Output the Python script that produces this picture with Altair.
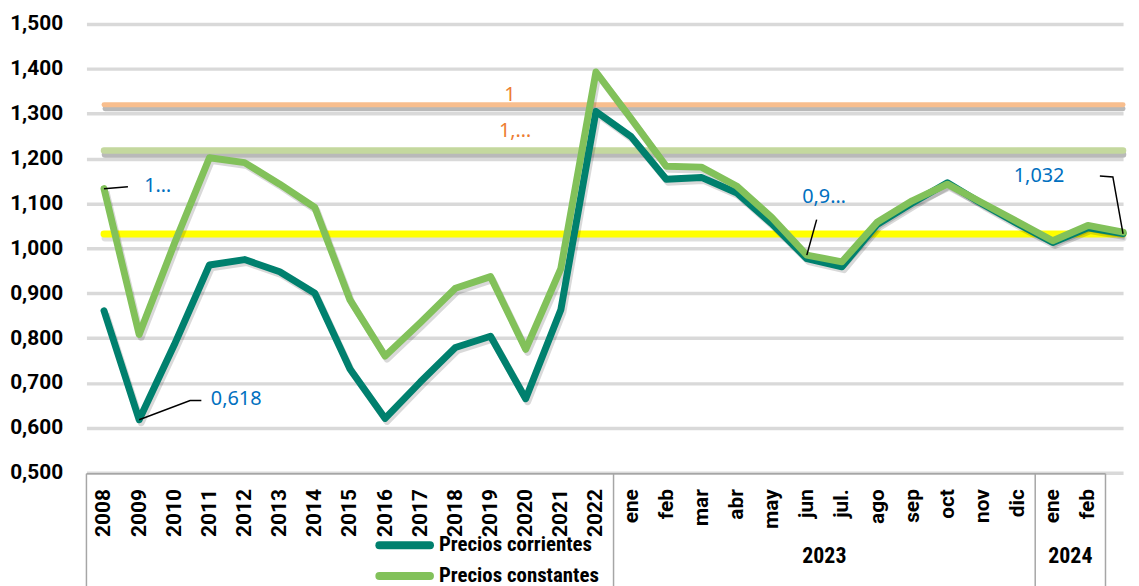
import json
import altair as alt
import pandas as pd

# ---------------- data ----------------
categories = ["2008", "2009", "2010", "2011", "2012", "2013", "2014", "2015", "2016",
              "2017", "2018", "2019", "2020", "2021", "2022",
              "ene", "feb", "mar", "abr", "may", "jun", "jul.", "ago", "sep", "oct",
              "nov", "dic", "ene", "feb", ""]
corrientes = [0.861, 0.618, 0.785, 0.963, 0.975, 0.948, 0.900, 0.731, 0.621, 0.702,
              0.779, 0.804, 0.665, 0.863, 1.305, 1.249, 1.154, 1.158, 1.124, 1.055,
              0.977, 0.959, 1.053, 1.101, 1.146, 1.099, 1.055, 1.013, 1.046, 1.033]
constantes = [1.133, 0.808, 1.010, 1.202, 1.191, 1.143, 1.091, 0.885, 0.760, 0.834,
              0.911, 0.937, 0.775, 0.955, 1.393, 1.289, 1.183, 1.181, 1.139, 1.069,
              0.985, 0.970, 1.058, 1.106, 1.143, 1.101, 1.059, 1.017, 1.051, 1.036]
series_names = ["Precios corrientes", "Precios constantes"]
series_colors = ["#00806E", "#82C15A"]

ref_values = [1.320, 1.218, 1.032]
ref_colors = ["#F8BE8E", "#C4D89E", "#FFFF00"]
ref_widths = [5, 6.5, 7]
ref_shadow_opacity = [0.55, 0.55, 0.25]
ref_label_text = ["1", "1,\u2026"]
ref_label_x = [11.55, 11.7]
ref_label_y = [1.342, 1.262]

ann_text = ["1\u2026", "0,618", "0,9\u2026", "1,032"]
ann_x = [1.53, 3.76, 20.49, 26.61]
ann_y = [1.138, 0.664, 1.114, 1.161]
leader_id = [1, 1, 2, 2, 2, 3, 3, 4, 4, 4]
leader_x = [0, 0.68, 1, 2.45, 2.77, 20, 20.28, 28.34, 28.71, 29]
leader_y = [1.133, 1.137, 0.618, 0.661, 0.661, 0.985, 1.064, 1.161, 1.159, 1.032]

groups = ["2023", "2024"]
group_start = [15, 27]
group_end = [26, 28]
n_years = 15

y_ticks = [0.5, 0.6, 0.7, 0.8, 0.9, 1.0, 1.1, 1.2, 1.3, 1.4, 1.5]

# ---------------- tables ----------------
idx = list(range(len(categories)))
df_c = pd.DataFrame({"idx": idx, "value": corrientes})
df_k = pd.DataFrame({"idx": idx, "value": constantes})
df_ref = pd.DataFrame({"value": ref_values, "color": ref_colors, "w": ref_widths,
                       "xs": [0] * 3, "xe": [len(categories) - 1] * 3,
                       "sop": ref_shadow_opacity})
df_ref_lab = pd.DataFrame({"idx": ref_label_x, "value": ref_label_y, "text": ref_label_text})
df_ann = pd.DataFrame({"idx": ann_x, "value": ann_y, "text": ann_text})
df_lead = pd.DataFrame({"id": leader_id, "idx": leader_x, "value": leader_y,
                        "seq": list(range(len(leader_x)))})
df_groups = pd.DataFrame({"g": groups,
                          "idx": [(a + b) / 2 for a, b in zip(group_start, group_end)]})
bounds = [-0.5, n_years - 0.5] + [e + 0.5 for e in group_end]
df_sep = pd.DataFrame({"idx": bounds})
df_box = pd.DataFrame({"xs": [bounds[0]], "xe": [bounds[-1]]})

label_font = "Roboto"
narrow_font = "Liberation Sans Narrow, Roboto Condensed, DejaVu Sans Condensed, Roboto"
ann_font = "Noto Sans, Open Sans"

x_axis = alt.Axis(values=list(range(len(categories) - 1)),
                  labelExpr=json.dumps(categories) + "[datum.value]",
                  labelAngle=270, labelAlign="right", labelBaseline="middle",
                  labelPadding=16, labelFont=label_font, labelFontWeight="bold",
                  labelFontSize=21, labelColor="#000000", domain=False, ticks=False,
                  grid=False, title=None, labelOverlap=False)
y_axis = alt.Axis(values=y_ticks, labelExpr="replace(format(datum.value, '.3f'), '.', ',')",
                  labelFont=label_font, labelFontWeight="bold", labelFontSize=21,
                  labelColor="#000000", labelPadding=24, domain=False, ticks=False,
                  grid=True, gridColor="#D9D9D9", gridWidth=3.5, title=None)
xs = alt.Scale(domain=[-0.5, len(categories) - 1], nice=False, zero=False)
ys = alt.Scale(domain=[0.5, 1.5], nice=False, zero=False)
X = alt.X("idx:Q", scale=xs, axis=x_axis)
Y = alt.Y("value:Q", scale=ys, axis=y_axis)

# ---------------- layers ----------------
ref_shadow = alt.Chart(df_ref).mark_rule(strokeCap="round", color="#7F7F7F",
                                         yOffset=4, xOffset=1).encode(
    x=alt.X("xs:Q", scale=xs, axis=x_axis), x2="xe:Q", y=Y,
    strokeWidth=alt.StrokeWidth("w:Q", scale=None),
    opacity=alt.Opacity("sop:Q", scale=None))
ref_lines = alt.Chart(df_ref).mark_rule(strokeCap="round").encode(
    x=alt.X("xs:Q", scale=xs, axis=x_axis), x2="xe:Q", y=Y,
    strokeWidth=alt.StrokeWidth("w:Q", scale=None),
    color=alt.Color("color:N", scale=None))

shadow_c = alt.Chart(df_c).mark_line(strokeWidth=7, color="#000000", opacity=0.15,
                                     yOffset=3, xOffset=2, strokeJoin="round").encode(x=X, y=Y)
shadow_k = alt.Chart(df_k).mark_line(strokeWidth=7, color="#000000", opacity=0.15,
                                     yOffset=3, xOffset=2, strokeJoin="round").encode(x=X, y=Y)
line_c = alt.Chart(df_c).mark_line(strokeWidth=7, color=series_colors[0], strokeJoin="round",
                                   strokeCap="round").encode(x=X, y=Y)
line_k = alt.Chart(df_k).mark_line(strokeWidth=7, color=series_colors[1], strokeJoin="round",
                                   strokeCap="round").encode(x=X, y=Y)

leaders = alt.Chart(df_lead).mark_line(color="#000000", strokeWidth=1.5).encode(
    x=X, y=Y, detail="id:N", order="seq:Q")
ann = alt.Chart(df_ann).mark_text(font=ann_font, fontSize=20, color="#0070C0",
                                  align="center", baseline="middle").encode(x=X, y=Y, text="text:N")
ref_lab = alt.Chart(df_ref_lab).mark_text(font=ann_font, fontSize=20, color="#ED7D31",
                                          align="center", baseline="middle").encode(
    x=X, y=Y, text="text:N")

box_top = alt.Chart(df_box).mark_rule(color="#A6A6A6", strokeWidth=1.5).encode(
    x=alt.X("xs:Q", scale=xs, axis=x_axis), x2="xe:Q", y=alt.value(453))
seps = alt.Chart(df_sep).mark_rule(color="#A6A6A6", strokeWidth=1.5).encode(
    x=X, y=alt.value(453), y2=alt.value(578))
group_lab = alt.Chart(df_groups).mark_text(font=narrow_font, fontWeight="bold", fontSize=22,
                                           color="#000000", baseline="middle").encode(
    x=X, y=alt.value(536), text="g:N")

leg_layers = []
leg_rows = [525, 556]
for name, col, ry in zip(series_names, series_colors, leg_rows):
    d = pd.DataFrame({"name": [name]})
    leg_layers.append(alt.Chart(d).mark_rule(strokeWidth=8, strokeCap="round", color=col).encode(
        x=alt.value(295), x2=alt.value(346), y=alt.value(ry)))
    leg_layers.append(alt.Chart(d).mark_text(font=narrow_font, fontWeight="bold", fontSize=21,
                                             color="#000000", align="left",
                                             baseline="middle").encode(
        x=alt.value(355), y=alt.value(ry), text="name:N"))

chart = alt.layer(
    ref_shadow, ref_lines, shadow_c, shadow_k, line_c, line_k, leaders, ann, ref_lab,
    box_top, seps, group_lab, *leg_layers
).properties(
    width=1044, height=452,
    autosize=alt.AutoSizeParams(type="none"),
    padding={"left": 79, "top": 14, "right": 8, "bottom": 112},
    background="#FFFFFF",
).configure_view(stroke=None)

chart.save("out.html", embed_options={"renderer": "svg", "actions": False})
